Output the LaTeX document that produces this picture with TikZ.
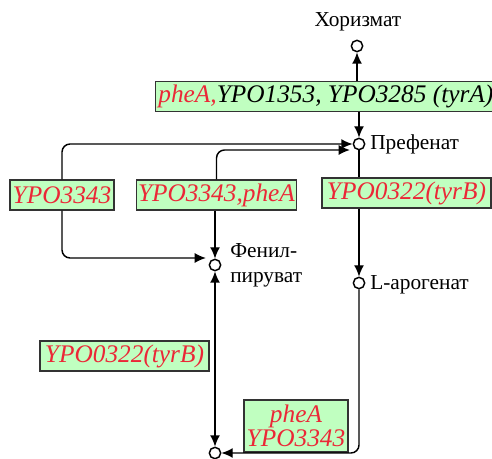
\documentclass[tikz,border=0pt]{standalone}
\usepackage{fontspec}
\setmainfont{Liberation Serif}
\usetikzlibrary{arrows.meta}
\definecolor{genefill}{RGB}{192,255,192}
\definecolor{genered}{RGB}{235,40,55}
\tikzset{
  met/.style={circle,draw,fill=white,line width=1.1pt,minimum size=8.5pt,inner sep=0pt},
  gene/.style={draw=black!80,fill=genefill,line width=1.1pt,inner xsep=1pt,inner ysep=0pt,
    minimum height=22.5pt,font=\fontsize{19}{16.5}\selectfont\itshape,text=genered},
  lbl/.style={font=\fontsize{16}{18.75}\selectfont,inner sep=0.75pt},
  conn/.style={line width=1.1pt,-{Latex[length=8.5pt,width=7.5pt]}},
}
\begin{document}
\begin{tikzpicture}[x=0.75pt,y=0.75pt,yscale=-1]
\useasboundingbox (0,0) rectangle (492,459);

% Metabolites
\node[met] (chor) at (357,46) {};
\node[lbl] (chorl) at (358,22) {Хоризмат};
\node[met] (pref) at (359,144) {};
\node[lbl,anchor=west] (prefl) at (369,144) {Префенат};
\node[met] (phen) at (215,265) {};
\node[lbl,anchor=west,align=left] (phenl) at (229,265) {Фенил-\\пируват};
\node[met] (arog) at (359,283) {};
\node[lbl,anchor=west] (arogl) at (369,285) {L-арогенат};
\node[met] (tyr) at (215,453) {};

% Genes
\node[gene,anchor=west,text=black,inner xsep=2pt] (tyrA) at (155,96.5) {\textcolor{genered}{pheA,}YPO1353, YPO3285 (tyrA)};
\node[gene,minimum width=78pt] (g3343) at (62,195) {YPO3343};
\node[gene,minimum width=119pt] (g3343a) at (216.5,195) {YPO3343,pheA};
\node[gene,minimum width=127pt] (tyrB) at (406.5,193) {YPO0322(tyrB)};
\node[gene,minimum width=127pt] (tyrBb) at (124.5,356) {YPO0322(tyrB)};
\node[gene,align=center,minimum width=78pt,minimum height=39pt] (pheAb) at (296,426) {pheA\\YPO3343};

% Connections
\coordinate (pin2) at (350,150);
\coordinate (pin1) at (206,258);
\draw[conn] (tyrA.north -| chor) -- (chor);
\draw[conn] (tyrA.south -| pref) -- (pref);
\draw[conn,rounded corners=6pt] (g3343.north) |- (pref);
\draw[conn,rounded corners=6pt] (g3343a.north) |- (pin2);
\draw[conn,rounded corners=6pt] (g3343.south) |- (pin1);
\draw[conn] (g3343a.south -| phen) -- (phen);
\draw[line width=1.1pt] (pref) -- (tyrB.north -| pref);
\draw[conn] (tyrB.south -| pref) -- (arog);
\draw[conn,{Latex[length=8.5pt,width=7.5pt]}-{Latex[length=8.5pt,width=7.5pt]}] (phen) -- (tyr);
\draw[conn,rounded corners=6pt] (arog) |- (tyr);

\end{tikzpicture}
\end{document}
